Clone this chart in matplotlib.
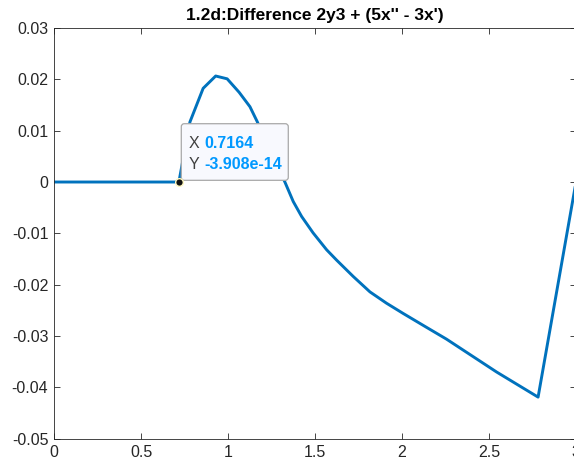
import matplotlib
matplotlib.use("Agg")
import matplotlib.pyplot as plt
from matplotlib.patches import FancyBboxPatch
from matplotlib.ticker import FuncFormatter
import matplotlib.transforms as mtransforms

# curve (t, difference)
t_vals = [0.0, 0.7164, 0.780, 0.856, 0.928, 0.994, 1.063, 1.125, 1.167,
          1.240, 1.326, 1.374, 1.422, 1.488, 1.566, 1.623, 1.719, 1.815,
          1.910, 2.006, 2.140, 2.255, 2.543, 2.782, 3.0]
diff_vals = [0.0, 0.0, 0.0117, 0.01825, 0.02065, 0.0201, 0.01747, 0.01467,
             0.01175, 0.0060, 0.0, -0.0038, -0.0067, -0.0099, -0.0132,
             -0.0152, -0.0184, -0.0214, -0.0236, -0.0256, -0.0283, -0.0306,
             -0.0370, -0.0419, 0.0]

tip_x = 0.7164
tip_y = 0.0
tip_label_x = "0.7164"
tip_label_y = "-3.908e-14"

x_ticks = [0, 0.5, 1, 1.5, 2, 2.5, 3]
y_ticks = [-0.05, -0.04, -0.03, -0.02, -0.01, 0, 0.01, 0.02, 0.03]

plt.rcParams.update({
    "font.family": ["Liberation Sans", "DejaVu Sans"],
    "axes.unicode_minus": False,
})

fig = plt.figure(figsize=(5.74, 4.66), dpi=100)
ax = fig.add_axes([54.3 / 574, 1 - 438.7 / 466, (576 - 54.3) / 574, (438.7 - 28) / 466])

ax.plot(t_vals, diff_vals, color="#0072BD", lw=2.1)

ax.set_xlim(0, 3)
ax.set_ylim(-0.05, 0.03)
ax.set_xticks(x_ticks)
ax.set_yticks(y_ticks)
ax.xaxis.set_major_formatter(FuncFormatter(lambda v, p: f"{v:g}"))
ax.yaxis.set_major_formatter(FuncFormatter(lambda v, p: f"{round(v, 4):g}"))
ax.tick_params(direction="in", length=4.3, width=0.6, colors="#262626",
               labelsize=11.5, pad=4.3, top=True, right=True)
for sp in ax.spines.values():
    sp.set_color("#262626")
    sp.set_linewidth(0.6)

ax.set_title("1.2d:Difference 2y3 + (5x'' - 3x')", fontsize=12.5,
             fontweight="bold", color="black", pad=6)

# data tip: marker plus box anchored at the point, offsets in pixels
ax.plot([tip_x], [tip_y], "o", ms=5.5, mfc="#111111", mec="#FFF8C0", mew=1.0,
        zorder=6, clip_on=False)

anchor = mtransforms.ScaledTranslation(tip_x, tip_y, ax.transData)
box = FancyBboxPatch((2.4, 1.7), 107, 56.6,
                     boxstyle="round,pad=0,rounding_size=3",
                     transform=mtransforms.IdentityTransform() + anchor,
                     fc="#F8F9FE", ec="#A8A8A8", lw=0.9, zorder=5,
                     clip_on=False)
ax.add_patch(box)


def off(dx, dy):
    return mtransforms.offset_copy(ax.transData, fig=fig, x=dx, y=dy, units="dots")


ax.text(tip_x, tip_y, "X", transform=off(9.5, 38.7), fontsize=11.5,
        color="#404040", va="center", ha="left", zorder=7)
ax.text(tip_x, tip_y, tip_label_x, transform=off(25, 38.7), fontsize=11.5,
        color="#0099FF", fontweight="bold", va="center", ha="left", zorder=7)
ax.text(tip_x, tip_y, "Y", transform=off(9.5, 17.7), fontsize=11.5,
        color="#404040", va="center", ha="left", zorder=7)
ax.text(tip_x, tip_y, tip_label_y, transform=off(25, 17.7), fontsize=11.5,
        color="#0099FF", fontweight="bold", va="center", ha="left", zorder=7)

fig.savefig("out.png", dpi=100)
